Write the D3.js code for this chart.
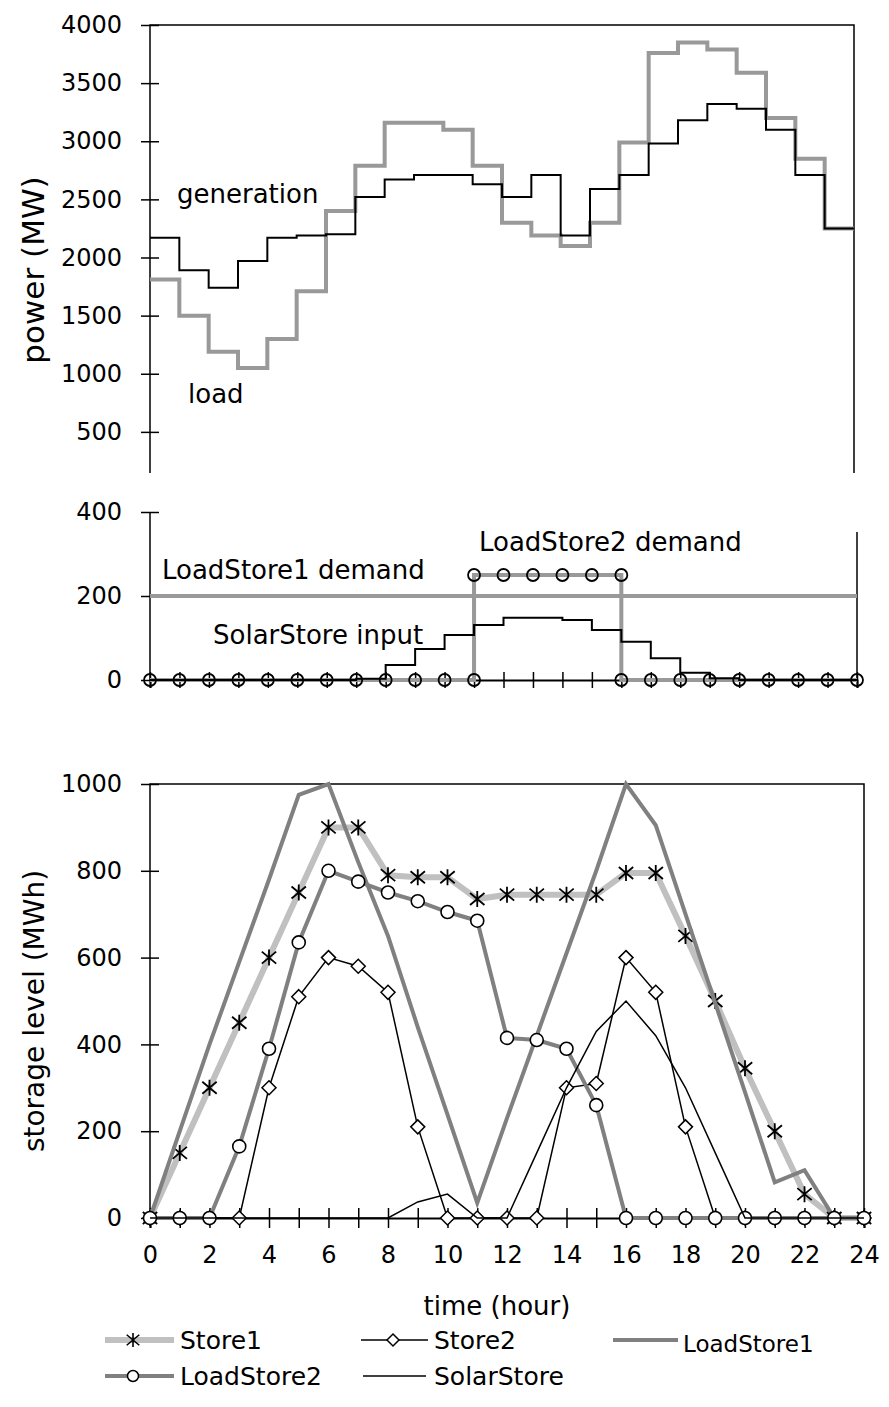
<!DOCTYPE html>
<html>
<head>
<meta charset="utf-8">
<script src="https://cdn.jsdelivr.net/npm/d3@7"></script>
<style>
body { margin: 0; background: #fff; }
svg text { font-family: "DejaVu Sans", sans-serif; fill: #000; }
</style>
</head>
<body>
<svg id="chart" width="889" height="1407"></svg>
<script>
// ---- data ----
const hours = [0,1,2,3,4,5,6,7,8,9,10,11,12,13,14,15,16,17,18,19,20,21,22,23,24]
const hourLabels = ['0','','2','','4','','6','','8','','10','','12','','14','','16','','18','','20','','22','','24']

// top panel, hourly MW (held for the hour)
const powerTicks = [500,1000,1500,2000,2500,3000,3500,4000]
const genPower  = [2170,1890,1740,1970,2170,2190,2200,2520,2670,2710,2710,2630,2520,2710,2190,2590,2710,2980,3180,3320,3280,3100,2710,2250]
const loadPower = [1810,1500,1190,1050,1300,1710,2400,2790,3160,3160,3100,2790,2300,2190,2100,2300,2990,3760,3850,3790,3590,3200,2850,2250]

// middle panel
const demandTicks = [0,200,400]
const ls1Demand = [200,200,200,200,200,200,200,200,200,200,200,200,200,200,200,200,200,200,200,200,200,200,200,200,200]
const ls2DemandHours  = [0,1,2,3,4,5,6,7,8,9,10,11,11,12,13,14,15,16,16,17,18,19,20,21,22,23,24]
const ls2DemandValues = [0,0,0,0,0,0,0,0,0,0,0,0,250,250,250,250,250,250,0,0,0,0,0,0,0,0,0]
const solarInput = [0,0,0,0,0,0,0,3,36,74,107,131,148,148,143,119,91,52,17,4,0,0,0,0]

// bottom panel, storage level MWh
const levelTicks = [0,200,400,600,800,1000]
const store1     = [0,150,300,450,600,750,900,900,790,785,785,735,745,745,745,745,795,795,650,500,345,200,55,0,0]
const store2     = [0,0,0,0,300,510,600,580,520,210,0,0,0,0,300,310,600,520,210,0,0,0,0,0,0]
const loadStore1 = [0,200,400,590,780,975,1000,820,650,440,238,35,230,420,610,800,1000,905,700,495,290,82,110,0,0]
const loadStore2 = [0,0,0,165,390,635,800,775,750,730,705,685,415,410,390,260,0,0,0,0,0,0,0,0,0]
const solarStore = [0,0,0,0,0,0,0,0,0,37,55,0,0,150,300,430,500,420,300,150,0,0,0,0,0]

const seriesNames = ['Store1','Store2','LoadStore1','LoadStore2','SolarStore']

// ---- helpers ----
const svg = d3.select('#chart')

function stepPoints(vals) {
    // each hourly value is held until the next hour, closed at hour 24
    return hours.map((h,i) => [h, vals[Math.min(i, vals.length - 1)]])
}
function hourPoints(vals) {
    return hours.map((h,i) => [h, vals[i]])
}
const asterisk = s => `M0,${-s}V${s}M${-s*0.9},${-s*0.75}L${s*0.9},${s*0.75}M${-s*0.9},${s*0.75}L${s*0.9},${-s*0.75}`
const diamond = s => `M0,${-s}L${s},0L0,${s}L${-s},0Z`

function leftAxis(g, y, ticks) {
    g.call(d3.axisLeft(y).tickValues(ticks).tickSize(9).tickPadding(19).tickFormat(d3.format('d')))
    g.select('.domain').remove()
    g.selectAll('.tick line').attr('x1', 9).attr('x2', -9).attr('stroke', '#000').attr('stroke-width', 1.5)
    g.selectAll('.tick text').attr('font-size', 24).attr('font-family', '"DejaVu Sans", sans-serif')
}

function bottomAxis(g, x, half, labels) {
    g.call(d3.axisBottom(x).tickValues(hours).tickSize(half).tickFormat((d,i) => labels ? labels[i] : ''))
    g.select('.domain').attr('stroke', '#000').attr('stroke-width', 2)
    g.selectAll('.tick line').attr('y1', -half).attr('y2', half).attr('stroke', '#000').attr('stroke-width', 1.5)
    g.selectAll('.tick text').attr('y', 28).attr('font-size', 24).attr('font-family', '"DejaVu Sans", sans-serif')
}

function line(x, y, curve) {
    return d3.line().x(d => x(d[0])).y(d => y(d[1])).curve(curve || d3.curveLinear)
}

// ---- top panel: generation and load ----
const xTop = d3.scaleLinear().domain([0,24]).range([150,854])
const yTop = d3.scaleLinear().domain([0,4000]).range([490,25])
const topG = svg.append('g')

topG.append('g').attr('transform', 'translate(150,0)').call(leftAxis, yTop, powerTicks)
topG.append('path')
    .attr('d', `M150,473V${yTop(4000)}H${xTop(24)}V473`)
    .attr('fill', 'none').attr('stroke', '#000').attr('stroke-width', 1.5)

topG.append('path').datum(stepPoints(loadPower))
    .attr('d', line(xTop, yTop, d3.curveStepAfter))
    .attr('fill', 'none').attr('stroke', '#999').attr('stroke-width', 4)
topG.append('path').datum(stepPoints(genPower))
    .attr('d', line(xTop, yTop, d3.curveStepAfter))
    .attr('fill', 'none').attr('stroke', '#000').attr('stroke-width', 2)

topG.append('text').attr('x', 177).attr('y', 203).attr('font-size', 26).text('generation')
topG.append('text').attr('x', 188).attr('y', 403).attr('font-size', 26).text('load')
topG.append('text')
    .attr('transform', 'translate(44,270) rotate(-90)')
    .attr('text-anchor', 'middle').attr('font-size', 31).text('power (MW)')

// ---- middle panel: demand and solar input ----
const xMid = d3.scaleLinear().domain([0,24]).range([150,857])
const yMid = d3.scaleLinear().domain([0,400]).range([680,512])
const midG = svg.append('g')

midG.append('g').attr('transform', 'translate(150,0)').call(leftAxis, yMid, demandTicks)
midG.append('path').attr('d', `M150,${yMid(0)}V${yMid(400)}`).attr('stroke', '#000').attr('stroke-width', 1.5)
midG.append('path').attr('d', `M${xMid(24)},${yMid(0)}V532`).attr('stroke', '#000').attr('stroke-width', 1.5)
midG.append('g').attr('transform', `translate(0,${yMid(0)})`).call(bottomAxis, xMid, 8, null)

midG.append('path').datum(hourPoints(ls1Demand))
    .attr('d', line(xMid, yMid))
    .attr('fill', 'none').attr('stroke', '#999').attr('stroke-width', 4)

const ls2Pts = ls2DemandHours.map((h,i) => [h, ls2DemandValues[i]])
midG.append('path').datum(ls2Pts)
    .attr('d', line(xMid, yMid))
    .attr('fill', 'none').attr('stroke', '#999').attr('stroke-width', 4)
midG.append('path').datum(stepPoints(solarInput))
    .attr('d', line(xMid, yMid, d3.curveStepAfter))
    .attr('fill', 'none').attr('stroke', '#000').attr('stroke-width', 2)
midG.selectAll('circle.ls2').data(ls2Pts).join('circle')
    .attr('class', 'ls2')
    .attr('cx', d => xMid(d[0])).attr('cy', d => yMid(d[1])).attr('r', 6)
    .attr('fill', 'none').attr('stroke', '#000').attr('stroke-width', 1.8)

midG.append('text').attr('x', 162).attr('y', 579).attr('font-size', 26).text('LoadStore1 demand')
midG.append('text').attr('x', 479).attr('y', 551).attr('font-size', 26).text('LoadStore2 demand')
midG.append('text').attr('x', 213).attr('y', 644).attr('font-size', 26).text('SolarStore input')

// ---- bottom panel: storage levels ----
const xBot = d3.scaleLinear().domain([0,24]).range([150,864])
const yBot = d3.scaleLinear().domain([0,1000]).range([1218,784])
const botG = svg.append('g')

botG.append('g').attr('transform', 'translate(150,0)').call(leftAxis, yBot, levelTicks)
botG.append('path')
    .attr('d', `M150,${yBot(0)}V${yBot(1000)}H${xBot(24)}V${yBot(0)}`)
    .attr('fill', 'none').attr('stroke', '#000').attr('stroke-width', 1.5)
botG.append('g').attr('transform', `translate(0,${yBot(0)})`).call(bottomAxis, xBot, 10, hourLabels)

// Store1
botG.append('path').datum(hourPoints(store1))
    .attr('d', line(xBot, yBot))
    .attr('fill', 'none').attr('stroke', '#c0c0c0').attr('stroke-width', 6).attr('stroke-linejoin', 'round')
botG.selectAll('path.s1').data(hourPoints(store1)).join('path')
    .attr('class', 's1')
    .attr('transform', d => `translate(${xBot(d[0])},${yBot(d[1])})`)
    .attr('d', asterisk(8)).attr('fill', 'none').attr('stroke', '#000').attr('stroke-width', 1.8)

// Store2
botG.append('path').datum(hourPoints(store2))
    .attr('d', line(xBot, yBot))
    .attr('fill', 'none').attr('stroke', '#000').attr('stroke-width', 1.5)
botG.selectAll('path.s2').data(hourPoints(store2)).join('path')
    .attr('class', 's2')
    .attr('transform', d => `translate(${xBot(d[0])},${yBot(d[1])})`)
    .attr('d', diamond(7)).attr('fill', '#fff').attr('stroke', '#000').attr('stroke-width', 1.5)

// LoadStore1
botG.append('path').datum(hourPoints(loadStore1))
    .attr('d', line(xBot, yBot))
    .attr('fill', 'none').attr('stroke', '#808080').attr('stroke-width', 4)

// LoadStore2
botG.append('path').datum(hourPoints(loadStore2))
    .attr('d', line(xBot, yBot))
    .attr('fill', 'none').attr('stroke', '#808080').attr('stroke-width', 4)
botG.selectAll('circle.ls2').data(hourPoints(loadStore2)).join('circle')
    .attr('class', 'ls2')
    .attr('cx', d => xBot(d[0])).attr('cy', d => yBot(d[1])).attr('r', 6.5)
    .attr('fill', '#fff').attr('stroke', '#000').attr('stroke-width', 1.6)

// SolarStore
botG.append('path').datum(hourPoints(solarStore))
    .attr('d', line(xBot, yBot))
    .attr('fill', 'none').attr('stroke', '#000').attr('stroke-width', 1.5)

botG.append('text').attr('x', 497).attr('y', 1315).attr('text-anchor', 'middle').attr('font-size', 26).text('time (hour)')
botG.append('text')
    .attr('transform', `translate(44,${(yBot(0) + yBot(1000)) / 2 + 10}) rotate(-90)`)
    .attr('text-anchor', 'middle').attr('font-size', 28).text('storage level (MWh)')

// ---- legend ----
const lg = svg.append('g')
const row1 = 1340, row2 = 1376

lg.append('line').attr('x1', 105).attr('x2', 174).attr('y1', row1).attr('y2', row1).attr('stroke', '#c0c0c0').attr('stroke-width', 6)
lg.append('path').attr('transform', `translate(133,${row1})`).attr('d', asterisk(7)).attr('fill', 'none').attr('stroke', '#000').attr('stroke-width', 1.6)
lg.append('text').attr('x', 180).attr('y', row1 + 9).attr('font-size', 25).text(seriesNames[0])

lg.append('line').attr('x1', 361).attr('x2', 428).attr('y1', row1).attr('y2', row1).attr('stroke', '#000').attr('stroke-width', 1.5)
lg.append('path').attr('transform', `translate(393,${row1})`).attr('d', diamond(6)).attr('fill', '#fff').attr('stroke', '#000').attr('stroke-width', 1.5)
lg.append('text').attr('x', 434).attr('y', row1 + 9).attr('font-size', 25).text(seriesNames[1])

lg.append('line').attr('x1', 613).attr('x2', 678).attr('y1', row1).attr('y2', row1).attr('stroke', '#808080').attr('stroke-width', 4)
lg.append('text').attr('x', 683).attr('y', row1 + 12).attr('font-size', 23).text(seriesNames[2])

lg.append('line').attr('x1', 105).attr('x2', 174).attr('y1', row2).attr('y2', row2).attr('stroke', '#808080').attr('stroke-width', 4)
lg.append('circle').attr('cx', 133).attr('cy', row2).attr('r', 5.5).attr('fill', '#fff').attr('stroke', '#000').attr('stroke-width', 1.5)
lg.append('text').attr('x', 180).attr('y', row2 + 9).attr('font-size', 25).text(seriesNames[3])

lg.append('line').attr('x1', 363).attr('x2', 426).attr('y1', row2).attr('y2', row2).attr('stroke', '#000').attr('stroke-width', 1.5)
lg.append('text').attr('x', 434).attr('y', row2 + 9).attr('font-size', 25).text(seriesNames[4])
</script>
</body>
</html>
